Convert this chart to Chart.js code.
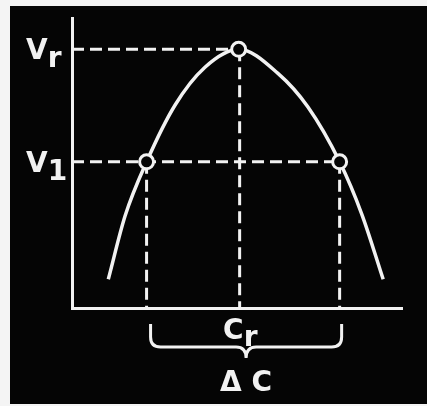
<!DOCTYPE html>
<html>
<head>
<meta charset="utf-8">
<script src="https://cdn.jsdelivr.net/npm/chart.js@4.4.1/dist/chart.umd.min.js"></script>
<style>
  html, body { margin: 0; padding: 0; background: #f4f4f4; width: 427px; height: 406px; overflow: hidden; }
  #wrap { position: absolute; left: 10px; top: 6px; width: 417px; height: 398px; background: #050505; }
</style>
</head>
<body>
<div id="wrap"><canvas id="chart" width="417" height="398"></canvas></div>
<script>
// resonance curve (C along x, V up)
const curveC = [11.0, 16.1, 22.6, 31.2, 40.3, 50.5, 62.4, 71.5, 81.1, 87.8, 94.3];
const curveV = [9.9, 31.8, 50.4, 69.9, 83.0, 89.2, 80.9, 69.3, 50.4, 32.4, 9.9];

// marked points: the peak and the two points at level V1
const markC = [22.6, 50.5, 81.1];
const markV = [50.4, 89.2, 50.4];

const levels = [89.2, 50.4];
const levelNames = [["V", "r"], ["V", "1"]];
const resC = 50.8;
const bottomName = ["C", "r"];
const spanName = "Δ C";

const white = "#f2f2f2";
const dash = [12, 6];

function guide(points) {
    return {
        type: "line",
        data: points,
        borderColor: white,
        borderWidth: 3,
        borderDash: dash,
        pointRadius: 0,
        fill: false
    };
}

const labelPlugin = {
    id: "labels",
    afterDraw(chart) {
        const ctx = chart.ctx;
        const x = chart.scales.x, y = chart.scales.y;
        ctx.save();
        ctx.fillStyle = white;
        ctx.strokeStyle = white;
        ctx.textBaseline = "alphabetic";
        const big = "bold 28px 'DejaVu Sans'";

        // V_r and V_1 next to the axis
        levelNames.forEach((nm, i) => {
            const py = y.getPixelForValue(levels[i]);
            ctx.font = big;
            ctx.textAlign = "left";
            ctx.fillText(nm[0], 16, py + 10);
            const w = ctx.measureText(nm[0]).width;
            ctx.fillText(nm[1], 16 + w, py + 18);
        });

        // C_r under the axis
        const cx = x.getPixelForValue(resC);
        ctx.font = big;
        ctx.textAlign = "left";
        const cw = ctx.measureText(bottomName[0]).width;
        ctx.fillText(bottomName[0], cx - cw + 4, y.bottom + 31);
        ctx.fillText(bottomName[1], cx + 4, y.bottom + 38);

        // brace between the two V1 points
        const x1 = x.getPixelForValue(markC[0]) + 4;
        const x2 = x.getPixelForValue(markC[2]) + 2;
        const mid = (x1 + x2) / 2;
        const top = y.bottom + 16, base = y.bottom + 39, tip = y.bottom + 50, r = 10;
        ctx.lineWidth = 3;
        ctx.beginPath();
        ctx.moveTo(x1, top);
        ctx.lineTo(x1, base - r);
        ctx.quadraticCurveTo(x1, base, x1 + r, base);
        ctx.lineTo(mid - r, base);
        ctx.quadraticCurveTo(mid, base, mid, tip);
        ctx.quadraticCurveTo(mid, base, mid + r, base);
        ctx.lineTo(x2 - r, base);
        ctx.quadraticCurveTo(x2, base, x2, base - r);
        ctx.lineTo(x2, top);
        ctx.stroke();

        ctx.font = "bold 28px 'DejaVu Sans'";
        ctx.textAlign = "center";
        ctx.fillText(spanName, mid, y.bottom + 83);
        ctx.restore();
    }
};

document.addEventListener("DOMContentLoaded", () => {
    const curve = curveC.map((c, i) => ({ x: c, y: curveV[i] }));
    const marks = markC.map((c, i) => ({ x: c, y: markV[i] }));

    new Chart(document.getElementById("chart"), {
        type: "scatter",
        data: {
            datasets: [
                {
                    type: "scatter",
                    data: marks,
                    pointRadius: 7,
                    pointBorderWidth: 3,
                    pointBackgroundColor: "#050505",
                    pointBorderColor: white
                },
                {
                    type: "line",
                    data: curve,
                    borderColor: white,
                    borderWidth: 3.5,
                    pointRadius: 0,
                    cubicInterpolationMode: "monotone",
                    fill: false
                },
                guide([{ x: 0, y: levels[0] }, { x: markC[1], y: levels[0] }]),
                guide([{ x: resC, y: levels[0] }, { x: resC, y: 0 }]),
                guide([{ x: 0, y: levels[1] }, { x: markC[2], y: levels[1] }]),
                guide([{ x: markC[0], y: levels[1] }, { x: markC[0], y: 0 }]),
                guide([{ x: markC[2], y: levels[1] }, { x: markC[2], y: 0 }])
            ]
        },
        options: {
            responsive: false,
            animation: false,
            layout: { padding: { left: 54, top: 12, right: 25, bottom: 88 } },
            plugins: { legend: { display: false }, tooltip: { enabled: false } },
            scales: {
                x: {
                    type: "linear", min: 0, max: 100,
                    grid: { display: false },
                    ticks: { display: false },
                    border: { color: white, width: 3 }
                },
                y: {
                    type: "linear", min: 0, max: 100,
                    grid: { display: false },
                    ticks: { display: false },
                    border: { color: white, width: 3 }
                }
            }
        },
        plugins: [labelPlugin]
    });
});
</script>
</body>
</html>
